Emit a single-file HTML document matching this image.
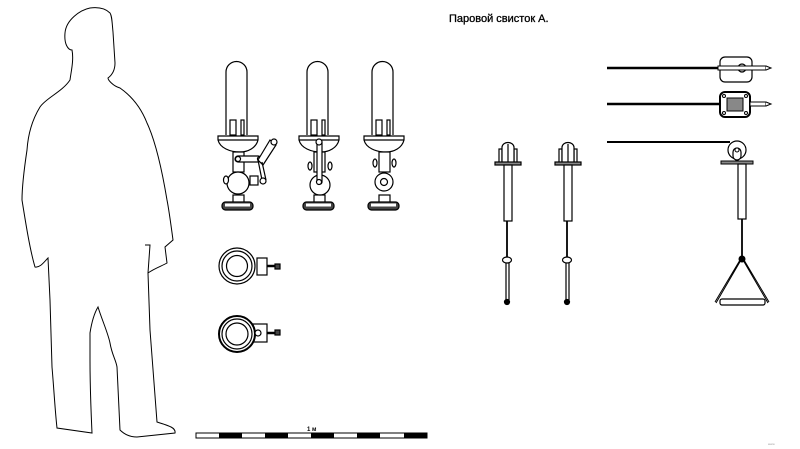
<!DOCTYPE html>
<html><head><meta charset="utf-8"><style>
html,body{margin:0;padding:0;background:#fff;width:800px;height:449px;overflow:hidden}
svg{display:block}
</style></head><body>
<svg width="800" height="449" viewBox="0 0 800 449" xmlns="http://www.w3.org/2000/svg">
<rect width="800" height="449" fill="#fff"/>
<g fill="none" stroke="#000" stroke-width="1">
<path d="M90 8 C80 10 66 20 65 33 C64 44 68 50 72 50 C74 60 71 72 70 80 C62 92 46 98 40 107 C32 120 28 135 27 150 C24 170 22 185 22 200 C26 225 30 250 35 267 C40 268 44 262 48 258 L50 300 L52 367 C54 390 55 410 57 428 L92 433 C91 410 90 390 90 360 L90 333 C92 320 95 312 98 307 C102 320 108 333 110 343 C112 355 116 360 117 367 L120 430 C125 435 130 437 137 437 L175 433 C176 428 170 426 157 422 L150 330 L148 273 C155 268 162 266 167 263 L165 247 L173 240 C171 225 169 210 167 200 C162 170 155 140 147 123 C140 105 130 95 120 88 C113 86 108 80 108 78 C112 75 115 70 115 63 L113 32 C112 22 112 16 110 13 C105 8 98 7 90 8 Z"/>
<path d="M145 245 L150 245 L148 273"/>
</g>

<text x="449" y="22" font-family="Liberation Sans, sans-serif" font-size="11" fill="#000" stroke="#000" stroke-width="0.3">Паровой свисток А.</text>

<g fill="#fff" stroke="#000" stroke-width="1.2">
  <g id="w">
    <path d="M226 135 L226 72 A10.5 10.5 0 0 1 247 72 L247 135"/>
    <rect x="230" y="120" width="6" height="15"/><rect x="241" y="120" width="3" height="15"/>
    <path d="M218 136 L258 136 L258 140 C256 148 248 152 240 152 C230 152 220 148 218 140 Z"/>
    <line x1="218" y1="140" x2="258" y2="140"/>
    <rect x="233" y="152" width="11" height="20"/>
    <rect x="233" y="195" width="11" height="8"/>
    <rect x="222" y="202" width="31" height="8" rx="3.5" fill="#444"/>
    <rect x="225" y="203.5" width="25" height="3" fill="#fff" stroke="none"/>
  </g>
  <circle cx="238" cy="183" r="11"/>
  <ellipse cx="226" cy="180" rx="2.5" ry="4"/>
  <rect x="235" y="156" width="26" height="6" rx="3"/>
  <circle cx="238" cy="159" r="2.5"/><circle cx="260" cy="159" r="2.5"/>
  <path d="M258 160 L270 140 L276 145 L263 165 Z"/>
  <circle cx="274" cy="142" r="3"/>
  <path d="M258 160 L262 180" /><path d="M262 162 L266 180"/>
  <circle cx="263" cy="181" r="3"/><rect x="250" y="176" width="8" height="9"/>

  <use href="#w" x="81"/>
  <circle cx="320" cy="185" r="10"/>
  <ellipse cx="310" cy="166" rx="2" ry="4"/><ellipse cx="330" cy="166" rx="2" ry="4"/>
  <rect x="317" y="140" width="5" height="44" rx="2"/>
  <circle cx="319" cy="142" r="3"/><circle cx="319" cy="182" r="2.5"/>

  <use href="#w" x="146"/>
  <circle cx="384" cy="182" r="9"/>
  <circle cx="384" cy="182" r="3.5"/>
  <ellipse cx="375" cy="163" rx="2" ry="4"/><ellipse cx="394" cy="163" rx="2" ry="4"/>
</g>

<g fill="#fff" stroke="#000" stroke-width="1.2">
  <rect x="257" y="258" width="10" height="17"/><line x1="267" y1="266" x2="277" y2="266" stroke-width="2.5"/><rect x="275" y="264" width="5" height="5" fill="#444"/>
  <circle cx="237" cy="266" r="18"/><circle cx="237" cy="266" r="15"/><circle cx="237" cy="266" r="10.5"/>
  <rect x="253" y="324" width="14" height="18"/><line x1="267" y1="333" x2="277" y2="333" stroke-width="2.5"/><rect x="275" y="330" width="5" height="5" fill="#444"/>
  <circle cx="237" cy="334" r="18" stroke-width="2"/><circle cx="237" cy="334" r="15"/><circle cx="237" cy="334" r="11"/>
  <circle cx="258" cy="333" r="3"/>
</g>

<rect x="196" y="433" width="231" height="5" fill="#fff" stroke="#000"/>
<g fill="#000">
  <rect x="219" y="433" width="23" height="5"/><rect x="265" y="433" width="23" height="5"/>
  <rect x="311" y="433" width="23" height="5"/><rect x="357" y="433" width="23" height="5"/>
  <rect x="404" y="433" width="23" height="5"/>
</g>
<text x="307" y="431" font-family="Liberation Sans, sans-serif" font-size="6" font-weight="bold">1 м</text>

<g fill="#fff" stroke="#000" stroke-width="1.2">
  <g id="h">
    <rect x="499" y="149" width="3" height="14"/><rect x="514" y="149" width="3" height="14"/>
    <path d="M502 163 L502 147 C503 141 513 141 514 147 L514 163"/>
    <line x1="508" y1="144" x2="508" y2="163"/>
    <rect x="495" y="162" width="26" height="3" fill="#888"/>
    <rect x="504" y="165" width="8" height="56"/>
    <line x1="507" y1="221" x2="507" y2="257" stroke-width="1.8"/>
    <ellipse cx="507" cy="260" rx="4.5" ry="3"/>
    <line x1="506" y1="263" x2="506" y2="300"/><line x1="509" y1="263" x2="509" y2="300"/>
    <circle cx="507" cy="302" r="2.5" fill="#000"/>
  </g>
  <use href="#h" x="60"/>
</g>

<g stroke="#000" fill="#fff">
  <line x1="607" y1="68" x2="720" y2="68" stroke-width="2.5"/>
  <rect x="720" y="57" width="32" height="25" rx="5" stroke-width="1.2"/>
  <circle cx="742" cy="68" r="4" stroke-width="1.2"/>
  <rect x="718" y="66" width="48" height="4" stroke-width="1"/>
  <path d="M766 66 L771 68 L766 70" stroke-width="1"/>

  <line x1="607" y1="104" x2="720" y2="104" stroke-width="2.5"/>
  <rect x="720" y="92" width="30" height="25" rx="5" stroke-width="2" fill="#fff"/>
  <rect x="727" y="98" width="16" height="13" fill="#888" stroke-width="1"/>
  <circle cx="724" cy="96" r="1.5"/><circle cx="746" cy="96" r="1.5"/><circle cx="724" cy="113" r="1.5"/><circle cx="746" cy="113" r="1.5"/>
  <rect x="750" y="102" width="16" height="4" stroke-width="1"/>
  <path d="M766 102 L771 104 L766 106" stroke-width="1"/>

  <line x1="607" y1="142" x2="730" y2="142" stroke-width="2"/>
  <circle cx="737" cy="150" r="9" stroke-width="1.2"/>
  <rect x="733" y="148" width="8" height="12" rx="4" stroke-width="1.2"/>
  <circle cx="737" cy="150" r="2" stroke-width="1"/>
  <rect x="721" y="161" width="32" height="3" fill="#888" stroke-width="1"/>
  <rect x="738" y="164" width="8" height="55" stroke-width="1.2"/>
  <line x1="742" y1="219" x2="742" y2="258" stroke-width="1.8"/>
  <circle cx="742" cy="259" r="3" fill="#000"/>
  <path d="M741 260 L716 303 M743 260 L768 303 M740 260 L715 302 M744 260 L769 302" stroke-width="1" fill="none"/>
  <rect x="720" y="299" width="45" height="6" rx="2" stroke-width="1.2"/>
</g>
<text x="768" y="445" font-family="Liberation Sans, sans-serif" font-size="3" fill="#999">www.</text>
</svg>
</body></html>
